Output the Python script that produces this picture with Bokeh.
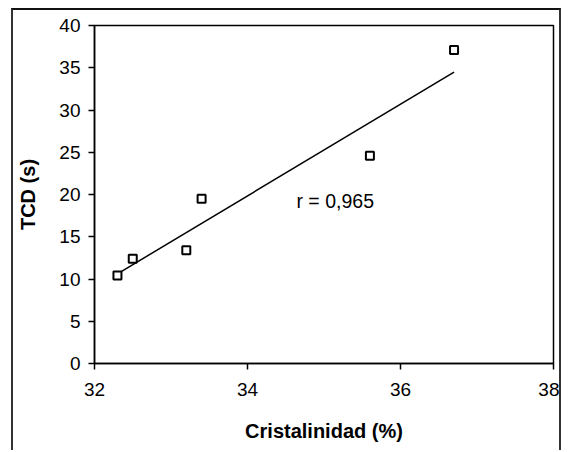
import numpy as np
from bokeh.plotting import figure
from bokeh.models import Range1d, FixedTicker, Label
from bokeh.embed import file_html
from bokeh.resources import INLINE

# Data
cristalinidad = [32.3, 32.5, 33.2, 33.4, 35.6, 36.7]
tcd = [10.4, 12.4, 13.4, 19.5, 24.6, 37.1]
x_ticks = [32, 34, 36, 38]
y_ticks = [0, 5, 10, 15, 20, 25, 30, 35, 40]
r_text = "r = 0,965"

FONT = "Liberation Sans"

p = figure(width=550, height=442, output_backend="svg", toolbar_location=None,
           x_range=Range1d(32, 38), y_range=Range1d(0, 40),
           min_border_left=81, min_border_right=10, min_border_top=15,
           min_border_bottom=89)
p.margin = (8, 0, 0, 11)
p.styles = {"border-top": "2px solid #111", "border-left": "2px solid #333",
            "border-right": "2px solid #333"}

p.xgrid.visible = False
p.ygrid.visible = False
p.background_fill_color = "white"
p.border_fill_color = "white"
p.outline_line_color = "black"
p.outline_line_width = 1.5

for ax in (p.xaxis[0], p.yaxis[0]):
    ax.axis_line_color = "black"
    ax.axis_line_width = 1.5
    ax.major_tick_line_color = "black"
    ax.major_tick_line_width = 1.5
    ax.major_tick_in = 0
    ax.major_tick_out = 6
    ax.minor_tick_line_color = None
    ax.major_label_text_font = FONT
    ax.major_label_text_font_size = "19px"
    ax.major_label_text_color = "black"
    ax.axis_label_text_font = FONT
    ax.axis_label_text_font_size = "20px"
    ax.axis_label_text_font_style = "bold"
    ax.axis_label_text_color = "black"

p.xaxis.ticker = FixedTicker(ticks=x_ticks)
p.yaxis.ticker = FixedTicker(ticks=y_ticks)
p.xaxis.axis_label = "Cristalinidad (%)"
p.yaxis.axis_label = "TCD (s)"
p.xaxis.major_label_standoff = 13
p.yaxis.major_label_standoff = 8
p.xaxis.axis_label_standoff = 21
p.yaxis.axis_label_standoff = 17

# Linear regression line
slope, intercept = np.polyfit(cristalinidad, tcd, 1)
xs = [min(cristalinidad), max(cristalinidad)]
ys = [slope * v + intercept for v in xs]
p.line(xs, ys, line_color="black", line_width=1.5)

p.scatter(cristalinidad, tcd, marker="square", size=8, fill_color="white",
          line_color="black", line_width=2)

p.add_layout(Label(x=34.64, y=19.2, text=r_text, text_font=FONT,
                   text_font_size="19.5px", text_color="black",
                   text_baseline="middle", text_align="left"))

open("out.html", "w").write(file_html(p, INLINE))
